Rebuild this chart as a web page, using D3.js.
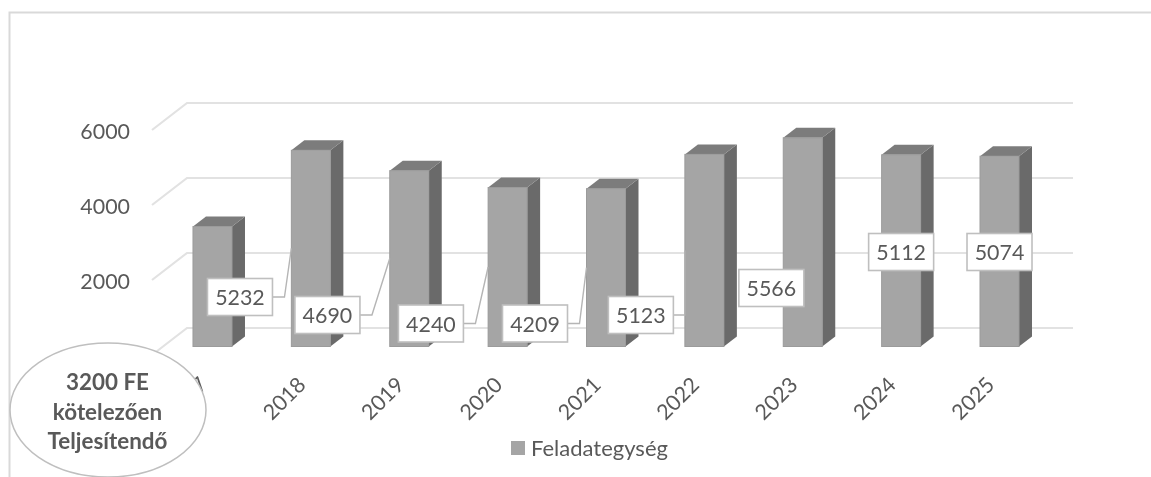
<!DOCTYPE html>
<html><head><meta charset="utf-8">
<script src="https://cdn.jsdelivr.net/npm/d3@7/dist/d3.min.js"></script>
<style>html,body{margin:0;padding:0;background:#fff}svg{display:block;filter:blur(0.4px)}text{font-family:Lato,"Noto Sans",sans-serif;fill:#595959}</style>
</head><body><svg id="c" width="1151" height="477"></svg>
<script>
const categories=["2017","2018","2019","2020","2021","2022","2023","2024","2025"];
const values=[3200,5232,4690,4240,4209,5123,5566,5112,5074];
const yTicks=[0,2000,4000,6000];
const seriesName="Feladategység";
const noteLines=["3200 FE","kötelezően","Teljesítendő"];
// label box centre offsets from the bar's front centre (null = no label drawn)
const labelDx=[null,-70.9,-81.8,-76.7,-71,-63.5,-31.4,0,0];
const labelY=[null,297,315,323.5,323.5,315,288,252,252];

const svg=d3.select("#c");
const x=d3.scaleBand().domain(categories).range([163.3,1048.7]);
const wall=d3.scaleLinear().domain([0,6000]).range([355,130]);
const barW=39,depX=13,depY=10,barLift=8.5,gridLift=27,gridL=152,gridDX=35,gridR=1073;
const cx=d=>x(d)+x.bandwidth()/2;
const barY=v=>wall(v)-barLift;

// chart frame
svg.append("path").attr("d","M9.5,477V12.5H1151").attr("fill","none").attr("stroke","#d9d9d9").attr("stroke-width",2);

// gridlines on floor/back wall
svg.append("g").selectAll("path").data(yTicks).join("path")
 .attr("d",t=>`M${gridL},${wall(t)}L${gridL+gridDX},${wall(t)-gridLift}H${gridR}`)
 .attr("fill","none").attr("stroke","#e2e2e2").attr("stroke-width",2.2);

// value axis
const ay=svg.append("g").attr("transform","translate(130,1.5)").call(d3.axisLeft(wall).tickValues(yTicks).tickSize(0).tickPadding(0).tickFormat(d3.format("d")));
ay.select(".domain").remove();
ay.selectAll("text").style("font-size","21.4px").style("font-family","Lato");

// category axis
const ax=svg.append("g").attr("transform","translate(0,398)").call(d3.axisBottom(x).tickSize(0).tickPadding(0));
ax.select(".domain").remove();
ax.selectAll("text").attr("y",0).attr("dy",0).attr("text-anchor","middle").attr("dominant-baseline","central")
  .attr("transform","translate(-27,0) rotate(-45)").style("font-size","21.4px").style("font-family","Lato");

// bars
const rows=categories.map((c,i)=>({c,v:values[i],i}));
const g=svg.append("g").selectAll("g").data(rows).join("g");
g.append("path").attr("fill","#6a6a6a").attr("d",d=>{const r=cx(d.c)+barW/2,t=barY(d.v),b=barY(0);
  return `M${r},${t}L${r+depX},${t-depY}V${b-depY}L${r},${b}Z`;});
g.append("path").attr("fill","#7c7c7c").attr("d",d=>{const l=cx(d.c)-barW/2,t=barY(d.v);
  return `M${l},${t}L${l+depX},${t-depY}H${l+barW+depX}L${l+barW},${t}Z`;});
g.append("rect").attr("x",d=>cx(d.c)-barW/2).attr("y",d=>barY(d.v)).attr("width",barW).attr("height",d=>barY(0)-barY(d.v))
 .attr("fill","#a5a5a5").attr("stroke","#9b9b9b").attr("stroke-width",1);

// data labels with leader lines
const boxW=65,boxH=37;
const lab=svg.append("g").selectAll("g").data(rows.filter(d=>labelDx[d.i]!==null)).join("g");
lab.append("path").attr("fill","none").attr("stroke","#b5b5b5").attr("stroke-width",1.4).attr("d",d=>{
  const bx=cx(d.c)+labelDx[d.i],by=labelY[d.i],edge=cx(d.c)-barW/2,mid=barY(d.v/2),right=bx+boxW/2;
  if(right>=edge-2) return "";
  return `M${right},${by}H${Math.min(right+12,edge)}L${edge},${mid}`;});
lab.append("rect").attr("x",d=>cx(d.c)+labelDx[d.i]-boxW/2).attr("y",d=>labelY[d.i]-boxH/2).attr("width",boxW).attr("height",boxH)
 .attr("fill","#fff").attr("stroke","#bfbfbf").attr("stroke-width",1.6);
lab.append("text").attr("x",d=>cx(d.c)+labelDx[d.i]).attr("y",d=>labelY[d.i]).attr("text-anchor","middle").attr("dominant-baseline","central")
 .style("font-size","21.4px").text(d=>d.v);

// legend
svg.append("rect").attr("x",511).attr("y",441).attr("width",14).attr("height",14).attr("fill","#a5a5a5");
svg.append("text").attr("x",531).attr("y",456).style("font-size","22px").text(seriesName);

// note ellipse
svg.append("ellipse").attr("cx",108).attr("cy",410).attr("rx",98).attr("ry",67).attr("fill","#fff").attr("stroke","#bfbfbf").attr("stroke-width",1.5);
svg.append("text").attr("text-anchor","middle").style("font-size","22.4px").style("font-weight","700")
 .selectAll("tspan").data(noteLines).join("tspan").attr("x",107.5).attr("y",(d,i)=>390+i*29.5).text(d=>d);
</script></body></html>
